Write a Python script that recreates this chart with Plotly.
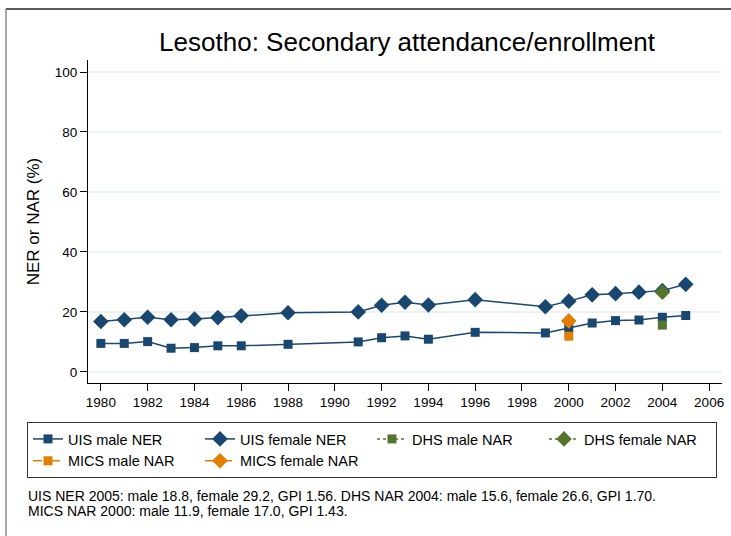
import plotly.graph_objects as go

years = [1980, 1981, 1982, 1983, 1984, 1985, 1986, 1988, 1991, 1992, 1993, 1994, 1996, 1999, 2000, 2001, 2002, 2003, 2004, 2005]
uis_male = [9.5, 9.5, 10.1, 7.9, 8.1, 8.7, 8.7, 9.2, 10.0, 11.4, 12.0, 10.9, 13.2, 13.0, 14.7, 16.3, 17.1, 17.3, 18.2, 18.8]
uis_female = [16.8, 17.4, 18.2, 17.4, 17.6, 18.1, 18.7, 19.7, 20.0, 22.2, 23.2, 22.3, 24.1, 21.7, 23.6, 25.7, 26.1, 26.6, 27.1, 29.2]
dhs_years = [2004]
dhs_male = [15.6]
dhs_female = [26.6]
mics_years = [2000]
mics_male = [11.9]
mics_female = [17.0]
x_ticks = list(range(1980, 2007, 2))
y_ticks = [0, 20, 40, 60, 80, 100]
note_lines = ["UIS NER 2005: male 18.8, female 29.2, GPI 1.56. DHS NAR 2004: male 15.6, female 26.6, GPI 1.70.",
              "MICS NAR 2000: male 11.9, female 17.0, GPI 1.43."]

navy = "#1a476f"
green = "#55752f"
orange = "#e37e00"

SQ = 9
DM = 12

fig = go.Figure()
fig.add_trace(go.Scatter(x=years, y=uis_male, mode="lines+markers", name="UIS male NER",
                         line=dict(color=navy, width=1.5),
                         marker=dict(symbol="square", size=SQ, color=navy)))
fig.add_trace(go.Scatter(x=years, y=uis_female, mode="lines+markers", name="UIS female NER",
                         line=dict(color=navy, width=1.5),
                         marker=dict(symbol="diamond", size=DM, color=navy)))
fig.add_trace(go.Scatter(x=dhs_years, y=dhs_male, mode="lines+markers", name="DHS male NAR",
                         line=dict(color=green, width=1.5, dash="dot"),
                         marker=dict(symbol="square", size=SQ, color=green)))
fig.add_trace(go.Scatter(x=dhs_years, y=dhs_female, mode="lines+markers", name="DHS female NAR",
                         line=dict(color=green, width=1.5, dash="dot"),
                         marker=dict(symbol="diamond", size=DM, color=green)))
fig.add_trace(go.Scatter(x=mics_years, y=mics_male, mode="lines+markers", name="MICS male NAR",
                         line=dict(color=orange, width=1.5, dash="dashdot"),
                         marker=dict(symbol="square", size=SQ, color=orange)))
fig.add_trace(go.Scatter(x=mics_years, y=mics_female, mode="lines+markers", name="MICS female NAR",
                         line=dict(color=orange, width=1.5, dash="dashdot"),
                         marker=dict(symbol="diamond", size=DM, color=orange)))

L, R, T, B = 88, 9, 60, 153
W, H = 731, 536
pw, ph = W - L - R, H - T - B


def px(xp):
    return (xp - L) / pw


def py(yp):
    return (H - B - yp) / ph


annotations = [dict(xref="paper", yref="paper", x=px(26), y=py(y0), xanchor="left", yanchor="middle",
                    align="left", showarrow=False, font=dict(size=14), text=t)
               for t, y0 in zip(note_lines, [496, 511])]

fig.update_layout(
    width=W, height=H,
    paper_bgcolor="white", plot_bgcolor="white",
    font=dict(family="Liberation Sans, Arial, sans-serif", color="black", size=13),
    margin=dict(l=L, r=R, t=T, b=B, autoexpand=False),
    title=dict(text="Lesotho: Secondary attendance/enrollment", x=407 / W, xanchor="center",
               y=1 - 42 / H, yanchor="middle", yref="container", font=dict(size=26)),
    showlegend=True,
    legend=dict(orientation="h", x=px(27), xanchor="left", y=py(422), yanchor="top",
                bordercolor="#333", borderwidth=1, entrywidth=127, entrywidthmode="pixels",
                font=dict(size=14.5), tracegroupgap=0),
    xaxis=dict(range=[1979.45, 2006.55], tickmode="array", tickvals=x_ticks,
               showgrid=False, zeroline=False, showline=True, linecolor="black", linewidth=1,
               ticks="outside", ticklen=7, tickcolor="black", tickfont=dict(size=13.5)),
    yaxis=dict(range=[-3.7, 104], tickmode="array", tickvals=y_ticks,
               showgrid=True, gridcolor="#eaf2f3", gridwidth=1.5, zeroline=False,
               showline=True, linecolor="black", linewidth=1,
               ticks="outside", ticklen=7, tickcolor="black", tickfont=dict(size=13.5),
               title=dict(text="NER or NAR (%)", font=dict(size=17), standoff=10)),
    annotations=annotations,
    shapes=[
        dict(type="line", xref="paper", yref="paper", x0=px(6), x1=px(W), y0=py(9), y1=py(9),
             line=dict(color="#222", width=1.5)),
        dict(type="line", xref="paper", yref="paper", x0=px(6), x1=px(6), y0=py(9), y1=py(H),
             line=dict(color="#888", width=1.5)),
    ],
)

fig.write_html("out.html", config={"displayModeBar": False},
               post_script="document.body.style.margin='0';document.body.style.overflow='hidden';")
